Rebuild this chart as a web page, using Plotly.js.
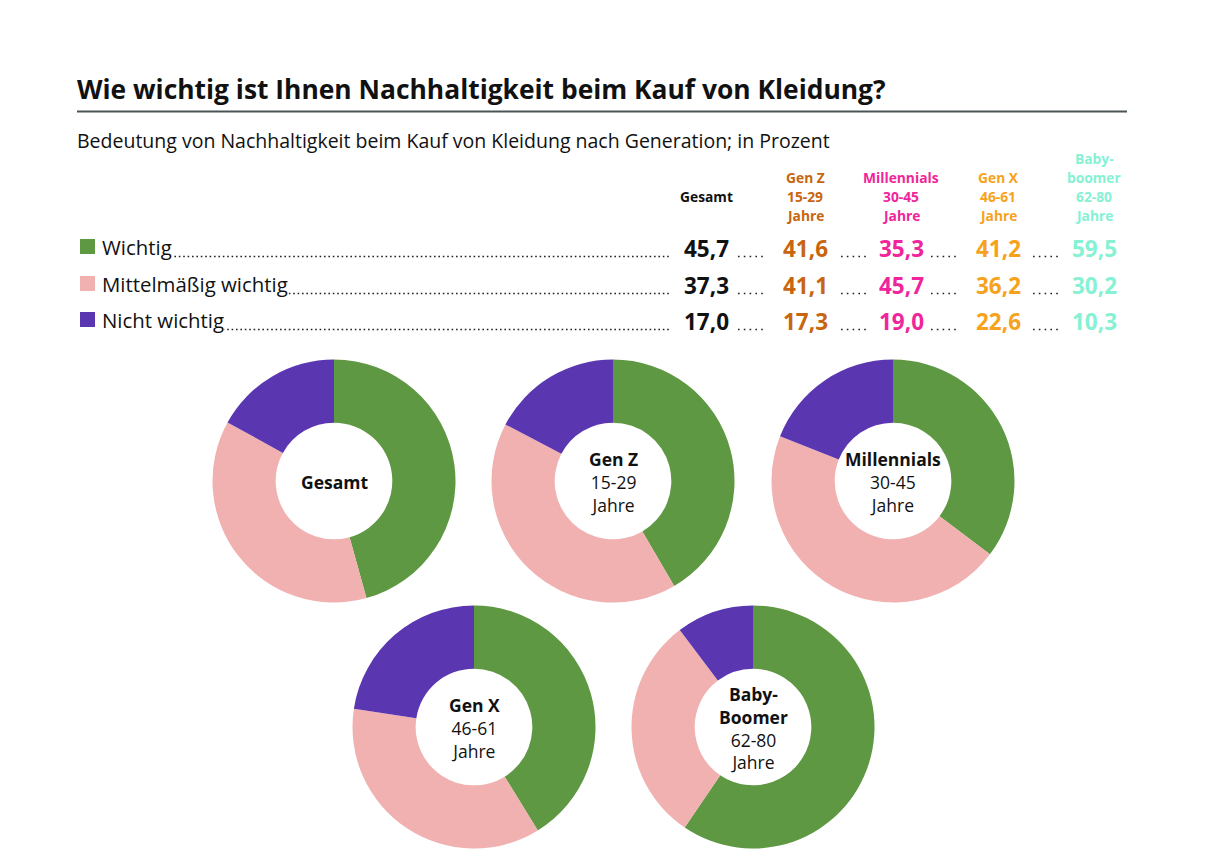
<!DOCTYPE html>
<html>
<head>
<meta charset="utf-8">
<script src="https://cdn.plot.ly/plotly-3.0.1.min.js"></script>
<style>
  html, body { margin: 0; padding: 0; background: #ffffff; }
  #chart { width: 1205px; height: 865px; }
</style>
</head>
<body>
<div id="chart"></div>
<script>
// Survey: importance of sustainability when buying clothes, by generation (percent)
const categories = ['Wichtig', 'Mittelmäßig wichtig', 'Nicht wichtig'];
const groups = ['Gesamt', 'Gen Z', 'Millennials', 'Gen X', 'Baby-Boomer'];
const headerLabels = [
  ['Gesamt'],
  ['Gen Z', '15-29', 'Jahre'],
  ['Millennials', '30-45', 'Jahre'],
  ['Gen X', '46-61', 'Jahre'],
  ['Baby-', 'boomer', '62-80', 'Jahre']
];
const centerNames = [['Gesamt'], ['Gen Z'], ['Millennials'], ['Gen X'], ['Baby-', 'Boomer']];
const centerAges = [[], ['15-29', 'Jahre'], ['30-45', 'Jahre'], ['46-61', 'Jahre'], ['62-80', 'Jahre']];

const wichtig       = [45.7, 41.6, 35.3, 41.2, 59.5];
const mittelmaessig = [37.3, 41.1, 45.7, 36.2, 30.2];
const nichtWichtig  = [17.0, 17.3, 19.0, 22.6, 10.3];

const sliceColors = ['#5f9843', '#f0b1b0', '#5a36b1'];
const groupColors = ['#111111', '#c8650f', '#f0259b', '#f7a21c', '#86f1d3'];

const W = 1205, H = 865;
const FONT = '"Open Sans", Roboto, sans-serif';
const fx = x => x / W;
const fy = y => 1 - y / H;

const title = 'Wie wichtig ist Ihnen Nachhaltigkeit beim Kauf von Kleidung?';
const subtitle = 'Bedeutung von Nachhaltigkeit beim Kauf von Kleidung nach Generation; in Prozent';

// layout geometry (pixels)
const colX = [706, 805, 901, 998, 1094];
const rowY = [248, 285, 321];
const donutCenters = [[334, 481], [613, 481], [893, 481], [474, 727], [753, 727]];
const donutR = 121.5;

const seriesByRow = [wichtig, mittelmaessig, nichtWichtig];
const fmt = v => v.toFixed(1).replace('.', ',');

const annotations = [];
const shapes = [];

// heading
annotations.push({
  xref: 'paper', yref: 'paper', x: fx(75), y: fy(89), xanchor: 'left', yanchor: 'middle',
  text: '<b>' + title + '</b>', showarrow: false,
  font: { family: FONT, size: 26.4, color: '#111111' }
});
shapes.push({
  type: 'line', xref: 'paper', yref: 'paper',
  x0: fx(77), x1: fx(1127), y0: fy(111.5), y1: fy(111.5),
  line: { color: '#4a5454', width: 2 }
});
annotations.push({
  xref: 'paper', yref: 'paper', x: fx(75), y: fy(141), xanchor: 'left', yanchor: 'middle',
  text: subtitle, showarrow: false,
  font: { family: FONT, size: 19.5, color: '#111111' }
});

// column headers
headerLabels.forEach((lines, g) => {
  const step = 18.7;
  lines.forEach((ln, i) => {
    const y = lines.length === 1 ? 196 : 215 - step * (lines.length - 1 - i);
    annotations.push({
      xref: 'paper', yref: 'paper', x: fx(colX[g]), y: fy(y), xanchor: 'center', yanchor: 'middle',
      text: '<b>' + ln + '</b>', showarrow: false,
      font: { family: FONT, size: 13.8, color: groupColors[g] }
    });
  });
});

// rows: legend square, label, dotted leader, values
const gapDots = [[738, 767], [841, 869], [931, 958], [1033, 1060]];
categories.forEach((cat, r) => {
  const cy = rowY[r];
  const base = cy + 8.5;
  shapes.push({
    type: 'rect', xref: 'paper', yref: 'paper',
    x0: fx(80), x1: fx(95), y0: fy(cy - 9), y1: fy(cy + 6),
    fillcolor: sliceColors[r], line: { width: 0 }
  });
  shapes.push({
    type: 'line', xref: 'paper', yref: 'paper',
    x0: fx(104), x1: fx(671), y0: fy(base), y1: fy(base),
    line: { color: '#222222', width: 1.6, dash: '1.6px,2.8px' }
  });
  gapDots.forEach(([a, b]) => {
    shapes.push({
      type: 'line', xref: 'paper', yref: 'paper',
      x0: fx(a), x1: fx(b), y0: fy(base), y1: fy(base),
      line: { color: '#222222', width: 1.6, dash: '1.6px,4.2px' }
    });
  });
  annotations.push({
    xref: 'paper', yref: 'paper', x: fx(101), y: fy(cy - 1), xanchor: 'left', yanchor: 'middle',
    text: cat, showarrow: false, bgcolor: '#ffffff', borderpad: 0,
    font: { family: FONT, size: 20.4, color: '#111111' }
  });
  seriesByRow[r].forEach((v, g) => {
    annotations.push({
      xref: 'paper', yref: 'paper', x: fx(colX[g]), y: fy(cy), xanchor: 'center', yanchor: 'middle',
      text: '<b>' + fmt(v) + '</b>', showarrow: false,
      font: { family: FONT, size: 22.5, color: groupColors[g] }
    });
  });
});

// donuts
const traces = groups.map((name, g) => {
  const [cx, cy] = donutCenters[g];
  return {
    type: 'pie',
    name: name,
    labels: categories,
    values: [wichtig[g], mittelmaessig[g], nichtWichtig[g]],
    marker: { colors: sliceColors, line: { width: 0 } },
    sort: false,
    direction: 'clockwise',
    rotation: 0,
    hole: 0.48,
    textinfo: 'none',
    hoverinfo: 'label+value',
    showlegend: false,
    domain: {
      x: [fx(cx - donutR), fx(cx + donutR)],
      y: [fy(cy + donutR), fy(cy - donutR)]
    }
  };
});

// donut centre labels
groups.forEach((name, g) => {
  const [cx, cy] = donutCenters[g];
  const lines = centerNames[g].map(t => '<b>' + t + '</b>').concat(centerAges[g]);
  annotations.push({
    xref: 'paper', yref: 'paper', x: fx(cx), y: fy(cy + 1), xanchor: 'center', yanchor: 'middle',
    text: lines.join('<br>'), showarrow: false, align: 'center',
    font: { family: FONT, size: 17.5, color: '#111111' }
  });
});

const layout = {
  width: W, height: H,
  margin: { l: 0, r: 0, t: 0, b: 0 },
  paper_bgcolor: '#ffffff',
  plot_bgcolor: '#ffffff',
  showlegend: false,
  annotations: annotations,
  shapes: shapes
};

Plotly.newPlot('chart', traces, layout, { displayModeBar: false, staticPlot: true });
</script>
</body>
</html>
